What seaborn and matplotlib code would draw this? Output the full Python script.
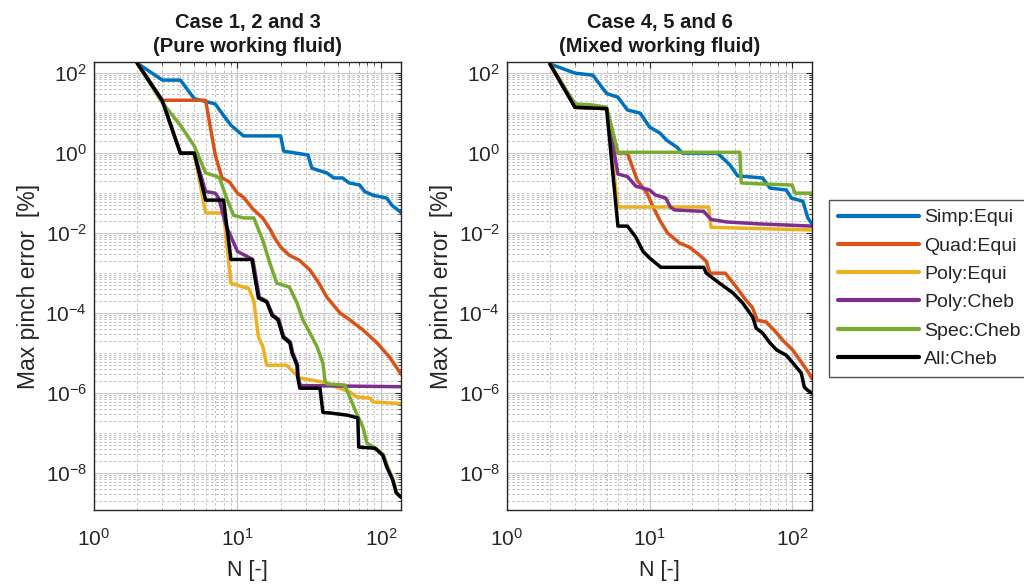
import numpy as np
import pandas as pd
import matplotlib
matplotlib.use("Agg")
import matplotlib.pyplot as plt
import seaborn as sns
from matplotlib.ticker import LogLocator, FixedLocator, FuncFormatter, NullFormatter

# ---------------- data: Case 1, 2 and 3 (pure working fluid) ----------------
c1_simp_N = [2, 3, 4, 5, 7, 7.5, 9, 11, 20, 21, 31, 33, 42, 47, 54, 60, 71, 77, 88, 110, 119, 138]
c1_simp_v = [178, 67, 67, 23, 17, 12, 5, 2.7, 2.7, 1.12, 0.9, 0.42, 0.32, 0.24, 0.24, 0.18, 0.16, 0.11,
             0.089, 0.075, 0.05, 0.033]

c1_quad_N = [2, 3, 6, 7, 7.8, 8.8, 10, 11, 13, 15, 17, 18, 20, 23, 27, 32, 37, 42, 52, 61, 75, 94, 115, 138]
c1_quad_v = [178, 21, 21, 0.9, 0.24, 0.19, 0.1, 0.079, 0.038, 0.024, 0.012, 0.008, 0.0045, 0.0028,
             0.0021, 0.0012, 5.6e-4, 2.5e-4, 1e-4, 6.7e-5, 3.8e-5, 1.8e-5, 7.9e-6, 3e-6]

c1_polyE_N = [2, 3, 4, 5, 6, 8, 9, 11, 12, 13, 14, 15, 16, 22, 27, 39, 61, 68, 84, 88, 138]
c1_polyE_v = [178, 20, 1.0, 1.0, 0.032, 0.032, 5.6e-4, 4.5e-4, 4.2e-4, 2e-4, 2.5e-5, 1.5e-5, 5e-6,
              5e-6, 2.4e-6, 1.9e-6, 1.06e-6, 8e-7, 7.5e-7, 6e-7, 5.5e-7]

c1_polyC_N = [2, 3, 4, 5, 6, 7, 7.4, 8.3, 10, 12.8, 14.2, 16, 17.6, 19.4, 21, 23.4, 24.2, 26.2, 26.5, 27.4, 138]
c1_polyC_v = [178, 20, 1.0, 1.0, 0.11, 0.1, 0.075, 0.016, 0.0035, 0.0022, 2.5e-4, 2e-4, 9e-5, 7e-5,
              2.6e-5, 1.9e-5, 1.05e-5, 5.2e-6, 2.6e-6, 1.55e-6, 1.45e-6]

c1_spec_N = [2, 3, 4, 5, 6, 7, 7.5, 8.4, 9.4, 11, 13, 15, 16.8, 18.8, 23, 26, 28.6, 32, 36, 39.4, 40.7,
             42, 56, 66, 75, 80, 92, 104, 111, 121, 128, 138]
c1_spec_v = [178, 18, 5, 1.5, 0.32, 0.27, 0.24, 0.075, 0.028, 0.024, 0.024, 0.0067, 0.0018, 5.6e-4,
             4.5e-4, 1.8e-4, 6.7e-5, 3.2e-5, 1.4e-5, 5.6e-6, 2.1e-6, 1.7e-6, 1.6e-6, 3.8e-7, 1.4e-7,
             5.6e-8, 4.2e-8, 2.9e-8, 1.5e-8, 7e-9, 3.3e-9, 2.5e-9]

c1_all_N = [2, 3, 4, 5, 6, 8, 9, 12.6, 14, 16, 17.4, 19.2, 20.8, 23.2, 24, 26, 26.3, 27.2, 37.6, 39.4,
            44, 59, 69, 70, 91, 103, 110, 121, 128, 138]
c1_all_v = [178, 20, 1.0, 1.0, 0.067, 0.067, 0.0022, 0.0022, 2.4e-4, 1.9e-4, 8.9e-5, 6.7e-5, 2.5e-5,
            1.8e-5, 1e-5, 5e-6, 2.5e-6, 1.33e-6, 1.33e-6, 3.3e-7, 3.2e-7, 2.8e-7, 2.4e-7, 4.5e-8,
            4.2e-8, 2.8e-8, 1.4e-8, 6.7e-9, 3.2e-9, 2.5e-9]

# ---------------- data: Case 4, 5 and 6 (mixed working fluid) ----------------
c2_simp_N = [2, 3, 4, 5, 6, 7, 8.6, 10, 11.8, 13.2, 15.6, 17, 30, 36.6, 41.5, 62, 70, 91, 99, 119, 129, 138]
c2_simp_v = [170, 100, 89, 31, 25, 12, 10, 4.5, 3.2, 2.1, 1.4, 1.0, 1.0, 0.51, 0.27, 0.24, 0.134,
             0.12, 0.075, 0.063, 0.024, 0.017]

c2_quad_N = [2, 3, 5, 6, 7, 8.2, 9.6, 10.6, 11.8, 13.4, 16.3, 19, 22, 25, 26.5, 34, 40.6, 47.5, 52.6,
             57, 66, 78, 86, 101, 116, 131, 138]
c2_quad_v = [170, 14, 13, 1.0, 1.0, 0.21, 0.1, 0.045, 0.021, 0.01, 0.0056, 0.0045, 0.003, 0.002,
             0.001, 0.001, 4.5e-4, 2.1e-4, 1.4e-4, 6.7e-5, 6e-5, 3.2e-5, 2.1e-5, 1.2e-5, 6e-6,
             3.2e-6, 2.3e-6]

c2_polyE_N = [2, 3, 5, 6, 26, 27, 138]
c2_polyE_v = [170, 14, 13, 0.045, 0.045, 0.014, 0.012]

c2_polyC_N = [2, 3, 5, 6, 7, 8, 10, 11, 13, 14, 15, 24, 27, 35, 60, 138]
c2_polyC_v = [170, 14, 13, 0.3, 0.26, 0.15, 0.12, 0.09, 0.075, 0.045, 0.038, 0.035, 0.022, 0.019,
              0.017, 0.015]

c2_spec_N = [2, 3, 4, 5, 6, 43, 44, 60, 100, 105, 138]
c2_spec_v = [170, 17, 16, 14, 1.05, 1.05, 0.18, 0.17, 0.16, 0.1, 0.1]

c2_all_N = [2, 3, 5, 6, 7, 8, 9, 10, 12, 24, 25, 31, 38.5, 45, 53, 56, 62, 70, 78, 91, 100, 116, 122,
            128, 138]
c2_all_v = [170, 14, 13, 0.015, 0.015, 0.008, 0.0035, 0.0024, 0.0014, 0.0014, 0.001, 5.6e-4, 3.2e-4,
            1.8e-4, 7.9e-5, 4.2e-5, 3.2e-5, 1.8e-5, 1.2e-5, 8.9e-6, 6e-6, 3.2e-6, 1.4e-6, 1.2e-6, 1.0e-6]

methods = ["Simp:Equi", "Quad:Equi", "Poly:Equi", "Poly:Cheb", "Spec:Cheb", "All:Cheb"]
colors = ["#0072BD", "#D95319", "#EDB120", "#7E2F8E", "#77AC30", "#000000"]
titles = ["Case 1, 2 and 3\n(Pure working fluid)", "Case 4, 5 and 6\n(Mixed working fluid)"]
y_ticks = [1e-8, 1e-6, 1e-4, 1e-2, 1e0, 1e2]
x_ticks = [1e0, 1e1, 1e2]

case1 = [(c1_simp_N, c1_simp_v), (c1_quad_N, c1_quad_v), (c1_polyE_N, c1_polyE_v),
         (c1_polyC_N, c1_polyC_v), (c1_spec_N, c1_spec_v), (c1_all_N, c1_all_v)]
case2 = [(c2_simp_N, c2_simp_v), (c2_quad_N, c2_quad_v), (c2_polyE_N, c2_polyE_v),
         (c2_polyC_N, c2_polyC_v), (c2_spec_N, c2_spec_v), (c2_all_N, c2_all_v)]


def make_df(case):
    frames = []
    for m, (n, v) in zip(methods, case):
        frames.append(pd.DataFrame({"N": n, "err": v, "method": m}))
    return pd.concat(frames, ignore_index=True)


sns.set_theme(style="white")
plt.rcParams["font.family"] = ["Liberation Sans", "DejaVu Sans"]
plt.rcParams["mathtext.fontset"] = "custom"
plt.rcParams["mathtext.rm"] = "Liberation Sans"
plt.rcParams["mathtext.it"] = "Liberation Sans"

fig = plt.figure(figsize=(10.24, 5.87), dpi=100)
ax1 = fig.add_axes([94 / 1024, 1 - 510 / 587, 307 / 1024, 448 / 587])
ax2 = fig.add_axes([507 / 1024, 1 - 510 / 587, 305 / 1024, 448 / 587])

pal = dict(zip(methods, colors))
handles = labels = None
for ax, case, title in zip([ax1, ax2], [case1, case2], titles):
    df = make_df(case)
    sns.lineplot(data=df, x="N", y="err", hue="method", hue_order=methods, palette=pal,
                 estimator=None, sort=False, lw=2.5, ax=ax, legend=True)
    if handles is None:
        handles, labels = ax.get_legend_handles_labels()
    ax.get_legend().remove()
    ax.set_xscale("log")
    ax.set_yscale("log")
    ax.set_xlim(1, 138)
    ax.set_ylim(1.2e-9, 190)
    ax.yaxis.set_major_locator(FixedLocator(y_ticks))
    ax.xaxis.set_major_locator(FixedLocator(x_ticks))
    fmt = FuncFormatter(lambda v, p: r"$\mathdefault{10^{%d}}$" % int(round(np.log10(v))))
    ax.yaxis.set_major_formatter(fmt)
    ax.xaxis.set_major_formatter(fmt)
    ax.yaxis.set_minor_locator(LogLocator(base=10, subs=np.arange(1, 10), numticks=100))
    ax.xaxis.set_minor_locator(LogLocator(base=10, subs=np.arange(1, 10), numticks=100))
    ax.yaxis.set_minor_formatter(NullFormatter())
    ax.xaxis.set_minor_formatter(NullFormatter())
    ax.grid(True, which="major", color="#c8c8c8", lw=0.8, ls="-")
    ax.grid(True, which="minor", color="#bdbdbd", lw=0.7, ls=(0, (2.5, 2.5)))
    ax.set_axisbelow(True)
    ax.tick_params(which="both", direction="in", top=True, right=True, colors="#262626",
                   labelcolor="#262626")
    ax.tick_params(which="major", length=4.5, width=0.8, labelsize=15)
    ax.tick_params(axis="y", which="major", pad=5)
    ax.tick_params(axis="x", which="major", pad=13)
    ax.tick_params(which="minor", length=2.5, width=0.6)
    for s in ax.spines.values():
        s.set_color("#262626")
        s.set_linewidth(1.0)
    ax.set_xlabel("N [-]", fontsize=15.5, color="#262626", labelpad=7)
    ax.set_ylabel("Max pinch error  [%]", fontsize=16.5, color="#262626", labelpad=4)
    ax.set_title(title, fontsize=14.5, fontweight="bold", color="#1a1a1a", pad=7, linespacing=1.35)

leg = fig.legend(handles, labels, loc="upper left", bbox_to_anchor=(829 / 1024, 1 - 200 / 587),
                 fontsize=14, frameon=True, fancybox=False, edgecolor="#262626",
                 handlelength=4.2, labelspacing=0.55, borderpad=0.45, handletextpad=0.25,
                 borderaxespad=0)
leg.get_frame().set_linewidth(1.0)
for h in leg.get_lines():
    h.set_linewidth(3.0)

fig.savefig("out.png", dpi=100)
